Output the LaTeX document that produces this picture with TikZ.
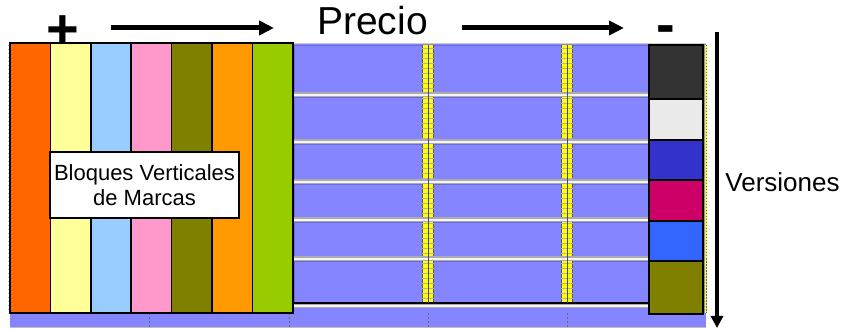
\documentclass[tikz,border=0pt]{standalone}
\usepackage{fontspec}
\setmainfont{Liberation Sans}
\usetikzlibrary{arrows.meta}
\definecolor{bluebg}{HTML}{8585FF}
\definecolor{rowedge}{HTML}{6B6BD6}
\definecolor{cA}{HTML}{FF6600}
\definecolor{cB}{HTML}{FFFF99}
\definecolor{cC}{HTML}{99CCFF}
\definecolor{cD}{HTML}{FF99CC}
\definecolor{cE}{HTML}{808000}
\definecolor{cF}{HTML}{FF9900}
\definecolor{cG}{HTML}{99CC00}
\definecolor{sA}{HTML}{333333}
\definecolor{sB}{HTML}{EAEAEA}
\definecolor{sC}{HTML}{3333CC}
\definecolor{sD}{HTML}{CC0066}
\definecolor{sE}{HTML}{3366FF}
\definecolor{sF}{HTML}{808000}
\definecolor{stripe}{HTML}{FFFF00}
\tikzset{
  colbox/.style={draw=black, line width=1.6pt},
  bigarrow/.style={line width=5pt, -{Triangle[length=15pt,width=14pt]}},
  vertarrow/.style={line width=3.5pt, -{Triangle[length=12pt,width=12pt]}},
  gridline/.style={draw=black!60, line width=0.8pt, dash pattern=on 2pt off 2pt},
  sepout/.style={line width=5pt, draw=gray!65},
  sepin/.style={line width=2.6pt, draw=white!92!gray},
}
\begin{document}
\begin{tikzpicture}[x=1pt,y=-1pt]
\useasboundingbox (0,0) rectangle (844,331);
% blue background
\fill[bluebg] (10,43) rectangle (706,327);
\draw[gray!40, line width=1pt] (293,43.5) -- (706,43.5);
% row outlines
\foreach \a/\b in {45/93, 97/140, 144/180, 184/218, 222/257, 261/303}{
  \draw[rowedge, line width=0.8pt] (294,\a) rectangle (649,\b);
}
% yellow stripes
\foreach \x in {428,567}{
  \fill[stripe] (\x-6,45) rectangle (\x+6,303);
  \foreach \xx in {-5.7,5.7}{
    \draw[black!65, line width=0.8pt] (\x+\xx,45) -- (\x+\xx,303);
  }
  \foreach \yy in {48,53,...,303}{
    \draw[black!30, line width=0.5pt] (\x-6,\yy) -- (\x+6,\yy);
  }
}
% right edge stripe
\draw[stripe, line width=2.5pt] (706,45) -- (706,313);
\draw[black!60, line width=0.8pt, dash pattern=on 1.5pt off 1.5pt] (706,45) -- (706,313);
% separators
\foreach \y in {95,142,182,220,259,306}{
  \draw[sepout] (293,\y) -- (649,\y);
  \draw[sepin] (293,\y) -- (649,\y);
}
\draw[black, line width=1.5pt] (293,303) -- (649,303);
% grid lines
\foreach \x in {428,567}{
  \draw[black!70, line width=0.7pt] (\x,45) -- (\x,303);
}
\foreach \x in {149,289,428,567}{
  \draw[gridline] (\x,313) -- (\x,327);
}
\draw[gridline] (293,45) -- (293,313);
\draw[black!30, line width=0.6pt, dash pattern=on 1pt off 3pt] (8,45) -- (8,313);
\draw[gray!50, line width=0.8pt] (10,327.5) -- (706,327.5);
% colour columns
\foreach \c [count=\i from 0] in {cA,cB,cC,cD,cE,cF,cG}{
  \draw[colbox, fill=\c] ({10+40.4*\i},43) rectangle ({10+40.4*(\i+1)},313);
}
% swatches
\foreach \c/\a/\b in {sA/45/99, sB/99/140, sC/140/180, sD/180/221, sE/221/261, sF/261/314}{
  \draw[colbox, fill=\c] (649,\a) rectangle (703,\b);
}
% label box
\node[draw=black, fill=white, line width=1.5pt, minimum width=189pt, minimum height=66pt,
  align=center, inner sep=0pt, font=\fontsize{22}{24.5}\selectfont] (lbl) at (144.5,185)
  {Bloques Verticales\\de Marcas};
% titles
\node[anchor=base, inner sep=0pt, font=\fontsize{39}{39}\selectfont] (precio) at (372.5,35) {Precio};
\node[anchor=base, inner sep=0pt, font=\fontsize{26}{26}\selectfont] (vers) at (782.5,192) {Versiones};
\node[anchor=base, inner sep=0pt, font=\bfseries\fontsize{56}{56}\selectfont] (plus) at (63,49) {+};
\node[anchor=base, inner sep=0pt, font=\bfseries\fontsize{56}{56}\selectfont] (minus) at (665.5,44) {-};
% arrows
\coordinate (a1s) at (111,28);
\coordinate (a1e) at (274,28);
\coordinate (a2s) at (462,28);
\coordinate (a2e) at (624,28);
\coordinate (a3s) at (717,32);
\coordinate (a3e) at (717,328);
\draw[bigarrow] (a1s) -- (a1e);
\draw[bigarrow] (a2s) -- (a2e);
\draw[vertarrow] (a3s) -- (a3e);
\end{tikzpicture}
\end{document}
